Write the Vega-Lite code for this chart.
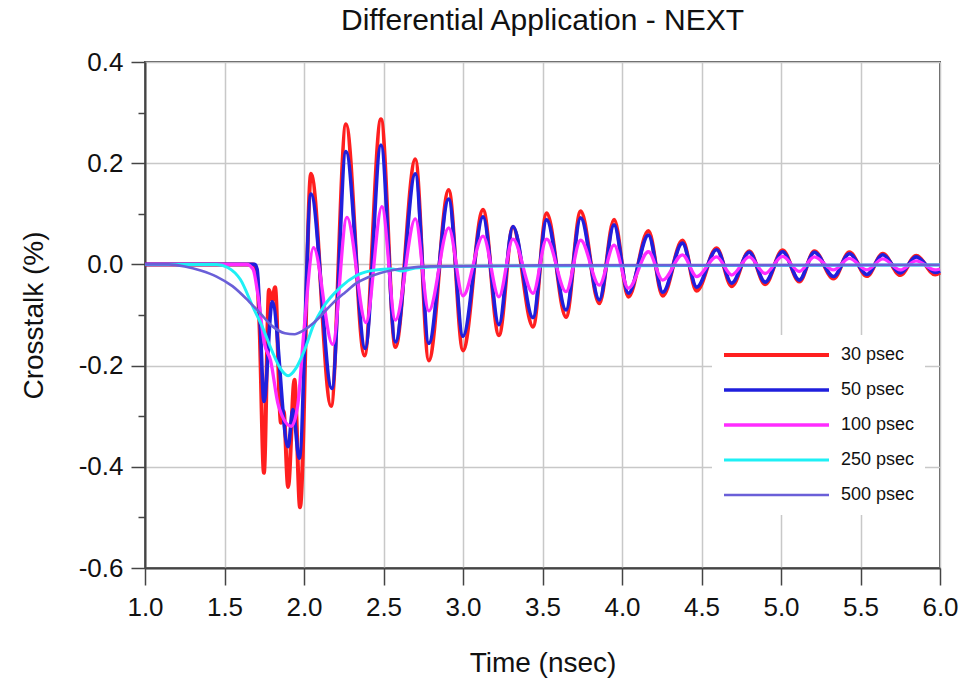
{
  "$schema": "https://vega.github.io/schema/vega-lite/v6.json",
  "width": 795,
  "height": 506,
  "autosize": {"type": "none"},
  "padding": {"left": 145, "top": 62, "right": 26, "bottom": 115},
  "background": "white",
  "title": {"text": "Differential Application - NEXT", "fontSize": 30, "fontWeight": "normal", "font": "Liberation Sans", "color": "#111", "anchor": "middle", "baseline": "alphabetic", "offset": 5, "dy": 16},
  "data": {"values": [
    {"s":"30 psec","t":1.0,"v":0},{"s":"30 psec","t":1.68,"v":0},{"s":"30 psec","t":1.70,"v":-0.01},{"s":"30 psec","t":1.72,"v":-0.12},{"s":"30 psec","t":1.748,"v":-0.412},{"s":"30 psec","t":1.78,"v":-0.05},{"s":"30 psec","t":1.80,"v":-0.07},{"s":"30 psec","t":1.818,"v":-0.045},{"s":"30 psec","t":1.855,"v":-0.313},{"s":"30 psec","t":1.872,"v":-0.29},{"s":"30 psec","t":1.90,"v":-0.44},{"s":"30 psec","t":1.94,"v":-0.228},{"s":"30 psec","t":1.975,"v":-0.48},{"s":"30 psec","t":2.044,"v":0.179},{"s":"30 psec","t":2.17,"v":-0.28},{"s":"30 psec","t":2.264,"v":0.277},{"s":"30 psec","t":2.38,"v":-0.18},{"s":"30 psec","t":2.484,"v":0.287},{"s":"30 psec","t":2.575,"v":-0.163},{"s":"30 psec","t":2.70,"v":0.208},{"s":"30 psec","t":2.785,"v":-0.19},{"s":"30 psec","t":2.91,"v":0.147},{"s":"30 psec","t":3.0,"v":-0.17},{"s":"30 psec","t":3.126,"v":0.108},{"s":"30 psec","t":3.226,"v":-0.14},{"s":"30 psec","t":3.314,"v":0.074},{"s":"30 psec","t":3.44,"v":-0.123},{"s":"30 psec","t":3.526,"v":0.101},{"s":"30 psec","t":3.648,"v":-0.104},{"s":"30 psec","t":3.74,"v":0.105},{"s":"30 psec","t":3.857,"v":-0.077},{"s":"30 psec","t":3.95,"v":0.088},{"s":"30 psec","t":4.04,"v":-0.064},{"s":"30 psec","t":4.166,"v":0.066},{"s":"30 psec","t":4.256,"v":-0.062},{"s":"30 psec","t":4.38,"v":0.047},{"s":"30 psec","t":4.47,"v":-0.052},{"s":"30 psec","t":4.595,"v":0.032},{"s":"30 psec","t":4.69,"v":-0.043},{"s":"30 psec","t":4.80,"v":0.026},{"s":"30 psec","t":4.90,"v":-0.039},{"s":"30 psec","t":5.01,"v":0.028},{"s":"30 psec","t":5.115,"v":-0.034},{"s":"30 psec","t":5.21,"v":0.026},{"s":"30 psec","t":5.33,"v":-0.028},{"s":"30 psec","t":5.43,"v":0.024},{"s":"30 psec","t":5.54,"v":-0.023},{"s":"30 psec","t":5.64,"v":0.021},{"s":"30 psec","t":5.75,"v":-0.021},{"s":"30 psec","t":5.85,"v":0.017},{"s":"30 psec","t":5.97,"v":-0.02},{"s":"30 psec","t":6.0,"v":-0.016},

    {"s":"50 psec","t":1.0,"v":0},{"s":"50 psec","t":1.69,"v":0},{"s":"50 psec","t":1.705,"v":-0.01},{"s":"50 psec","t":1.725,"v":-0.12},{"s":"50 psec","t":1.748,"v":-0.271},{"s":"50 psec","t":1.80,"v":-0.074},{"s":"50 psec","t":1.90,"v":-0.36},{"s":"50 psec","t":1.93,"v":-0.287},{"s":"50 psec","t":1.97,"v":-0.383},{"s":"50 psec","t":2.044,"v":0.139},{"s":"50 psec","t":2.175,"v":-0.245},{"s":"50 psec","t":2.264,"v":0.223},{"s":"50 psec","t":2.385,"v":-0.166},{"s":"50 psec","t":2.484,"v":0.236},{"s":"50 psec","t":2.575,"v":-0.153},{"s":"50 psec","t":2.70,"v":0.179},{"s":"50 psec","t":2.785,"v":-0.156},{"s":"50 psec","t":2.91,"v":0.129},{"s":"50 psec","t":3.0,"v":-0.142},{"s":"50 psec","t":3.126,"v":0.094},{"s":"50 psec","t":3.226,"v":-0.119},{"s":"50 psec","t":3.314,"v":0.075},{"s":"50 psec","t":3.44,"v":-0.105},{"s":"50 psec","t":3.526,"v":0.088},{"s":"50 psec","t":3.648,"v":-0.09},{"s":"50 psec","t":3.74,"v":0.092},{"s":"50 psec","t":3.857,"v":-0.07},{"s":"50 psec","t":3.95,"v":0.078},{"s":"50 psec","t":4.04,"v":-0.057},{"s":"50 psec","t":4.166,"v":0.058},{"s":"50 psec","t":4.256,"v":-0.055},{"s":"50 psec","t":4.38,"v":0.042},{"s":"50 psec","t":4.47,"v":-0.045},{"s":"50 psec","t":4.595,"v":0.029},{"s":"50 psec","t":4.69,"v":-0.037},{"s":"50 psec","t":4.80,"v":0.024},{"s":"50 psec","t":4.90,"v":-0.035},{"s":"50 psec","t":5.01,"v":0.025},{"s":"50 psec","t":5.115,"v":-0.031},{"s":"50 psec","t":5.21,"v":0.024},{"s":"50 psec","t":5.33,"v":-0.024},{"s":"50 psec","t":5.43,"v":0.021},{"s":"50 psec","t":5.54,"v":-0.02},{"s":"50 psec","t":5.64,"v":0.019},{"s":"50 psec","t":5.75,"v":-0.017},{"s":"50 psec","t":5.85,"v":0.015},{"s":"50 psec","t":5.97,"v":-0.016},{"s":"50 psec","t":6.0,"v":-0.013},

    {"s":"100 psec","t":1.0,"v":0},{"s":"100 psec","t":1.64,"v":0},{"s":"100 psec","t":1.68,"v":-0.01},{"s":"100 psec","t":1.71,"v":-0.06},{"s":"100 psec","t":1.75,"v":-0.155},{"s":"100 psec","t":1.79,"v":-0.19},{"s":"100 psec","t":1.84,"v":-0.28},{"s":"100 psec","t":1.92,"v":-0.32},{"s":"100 psec","t":1.96,"v":-0.28},{"s":"100 psec","t":2.0,"v":-0.13},{"s":"100 psec","t":2.06,"v":0.033},{"s":"100 psec","t":2.18,"v":-0.158},{"s":"100 psec","t":2.27,"v":0.093},{"s":"100 psec","t":2.39,"v":-0.115},{"s":"100 psec","t":2.49,"v":0.114},{"s":"100 psec","t":2.575,"v":-0.11},{"s":"100 psec","t":2.70,"v":0.09},{"s":"100 psec","t":2.785,"v":-0.092},{"s":"100 psec","t":2.91,"v":0.072},{"s":"100 psec","t":3.0,"v":-0.062},{"s":"100 psec","t":3.126,"v":0.056},{"s":"100 psec","t":3.226,"v":-0.064},{"s":"100 psec","t":3.314,"v":0.05},{"s":"100 psec","t":3.44,"v":-0.057},{"s":"100 psec","t":3.526,"v":0.05},{"s":"100 psec","t":3.648,"v":-0.054},{"s":"100 psec","t":3.74,"v":0.048},{"s":"100 psec","t":3.857,"v":-0.041},{"s":"100 psec","t":3.95,"v":0.038},{"s":"100 psec","t":4.04,"v":-0.047},{"s":"100 psec","t":4.166,"v":0.025},{"s":"100 psec","t":4.256,"v":-0.031},{"s":"100 psec","t":4.38,"v":0.019},{"s":"100 psec","t":4.47,"v":-0.024},{"s":"100 psec","t":4.595,"v":0.015},{"s":"100 psec","t":4.69,"v":-0.021},{"s":"100 psec","t":4.80,"v":0.015},{"s":"100 psec","t":4.90,"v":-0.018},{"s":"100 psec","t":5.01,"v":0.016},{"s":"100 psec","t":5.115,"v":-0.014},{"s":"100 psec","t":5.21,"v":0.015},{"s":"100 psec","t":5.33,"v":-0.011},{"s":"100 psec","t":5.43,"v":0.012},{"s":"100 psec","t":5.54,"v":-0.011},{"s":"100 psec","t":5.64,"v":0.011},{"s":"100 psec","t":5.75,"v":-0.011},{"s":"100 psec","t":5.85,"v":0.007},{"s":"100 psec","t":5.97,"v":-0.011},{"s":"100 psec","t":6.0,"v":-0.009},

    {"s":"250 psec","t":1.0,"v":0},{"s":"250 psec","t":1.45,"v":0},{"s":"250 psec","t":1.52,"v":-0.006},{"s":"250 psec","t":1.6,"v":-0.03},{"s":"250 psec","t":1.68,"v":-0.085},{"s":"250 psec","t":1.74,"v":-0.125},{"s":"250 psec","t":1.8,"v":-0.172},{"s":"250 psec","t":1.85,"v":-0.205},{"s":"250 psec","t":1.9,"v":-0.22},{"s":"250 psec","t":1.95,"v":-0.205},{"s":"250 psec","t":2.0,"v":-0.172},{"s":"250 psec","t":2.06,"v":-0.12},{"s":"250 psec","t":2.12,"v":-0.085},{"s":"250 psec","t":2.23,"v":-0.045},{"s":"250 psec","t":2.33,"v":-0.022},{"s":"250 psec","t":2.45,"v":-0.011},{"s":"250 psec","t":2.55,"v":-0.009},{"s":"250 psec","t":2.62,"v":-0.013},{"s":"250 psec","t":2.7,"v":-0.007},{"s":"250 psec","t":2.9,"v":-0.004},{"s":"250 psec","t":3.5,"v":-0.003},{"s":"250 psec","t":6.0,"v":-0.001},

    {"s":"500 psec","t":1.0,"v":0},{"s":"500 psec","t":1.15,"v":0},{"s":"500 psec","t":1.25,"v":-0.004},{"s":"500 psec","t":1.35,"v":-0.012},{"s":"500 psec","t":1.45,"v":-0.024},{"s":"500 psec","t":1.55,"v":-0.043},{"s":"500 psec","t":1.65,"v":-0.072},{"s":"500 psec","t":1.72,"v":-0.095},{"s":"500 psec","t":1.8,"v":-0.122},{"s":"500 psec","t":1.88,"v":-0.136},{"s":"500 psec","t":1.94,"v":-0.138},{"s":"500 psec","t":2.0,"v":-0.13},{"s":"500 psec","t":2.06,"v":-0.116},{"s":"500 psec","t":2.12,"v":-0.097},{"s":"500 psec","t":2.18,"v":-0.077},{"s":"500 psec","t":2.26,"v":-0.055},{"s":"500 psec","t":2.33,"v":-0.037},{"s":"500 psec","t":2.4,"v":-0.026},{"s":"500 psec","t":2.48,"v":-0.017},{"s":"500 psec","t":2.65,"v":-0.007},{"s":"500 psec","t":2.8,"v":-0.004},{"s":"500 psec","t":3.5,"v":-0.002},{"s":"500 psec","t":6.0,"v":-0.001}
  ]},
  "mark": {"type": "line", "interpolate": "monotone"},
  "encoding": {
    "x": {"field": "t", "type": "quantitative", "scale": {"domain": [1, 6], "nice": false, "zero": false},
      "axis": {"title": "Time (nsec)", "values": [1, 1.5, 2, 2.5, 3, 3.5, 4, 4.5, 5, 5.5, 6], "format": ".1f", "tickSize": 17, "labelPadding": 9, "titlePadding": 29}},
    "y": {"field": "v", "type": "quantitative", "scale": {"domain": [-0.6, 0.4], "nice": false, "zero": false},
      "axis": {"title": "Crosstalk (%)", "values": [-0.6, -0.5, -0.4, -0.3, -0.2, -0.1, 0, 0.1, 0.2, 0.3, 0.4],
        "labelExpr": "abs(round(datum.value*10))%2==0 ? replace(format(datum.value, '.1f'), '\u2212', '-') : ''",
        "gridOpacity": {"condition": {"test": "abs(round(datum.value*10))%2==1", "value": 0}, "value": 1},
        "tickSize": {"condition": {"test": "abs(round(datum.value*10))%2==1", "value": 7}, "value": 14},
        "labelPadding": 8, "titlePadding": 30}},
    "color": {"field": "s", "type": "nominal",
      "scale": {"domain": ["30 psec", "50 psec", "100 psec", "250 psec", "500 psec"], "range": ["#ff1f1f", "#1f1fdd", "#ff2cff", "#1ef0f5", "#6a5fd8"]},
      "legend": {"orient": "none", "legendX": 567, "legendY": 273, "title": null}},
    "strokeWidth": {"field": "s", "type": "nominal",
      "scale": {"domain": ["30 psec", "50 psec", "100 psec", "250 psec", "500 psec"], "range": [4, 2.6, 2.6, 2.6, 1.8]},
      "legend": {"orient": "none", "legendX": 567, "legendY": 273, "title": null}}
  },
  "config": {
    "font": "Liberation Sans",
    "view": {"stroke": "#555", "strokeWidth": 2},
    "axis": {"labelFontSize": 26, "labelColor": "#111", "titleFontSize": 28, "titleFontWeight": "normal", "titleColor": "#111",
      "domainColor": "#444", "domainWidth": 2, "tickColor": "#444", "tickWidth": 1.5, "gridColor": "#c8c8c8", "gridWidth": 1.5,
      "grid": true, "labelFlush": false, "labelBound": false, "labelOverlap": false},
    "legend": {"fillColor": "white", "padding": 10, "symbolType": "stroke", "symbolSize": 11025, "clipHeight": 20, "rowPadding": 15,
      "labelFontSize": 18, "labelColor": "#111", "labelOffset": 10, "symbolStrokeWidth": 3}
  }
}
